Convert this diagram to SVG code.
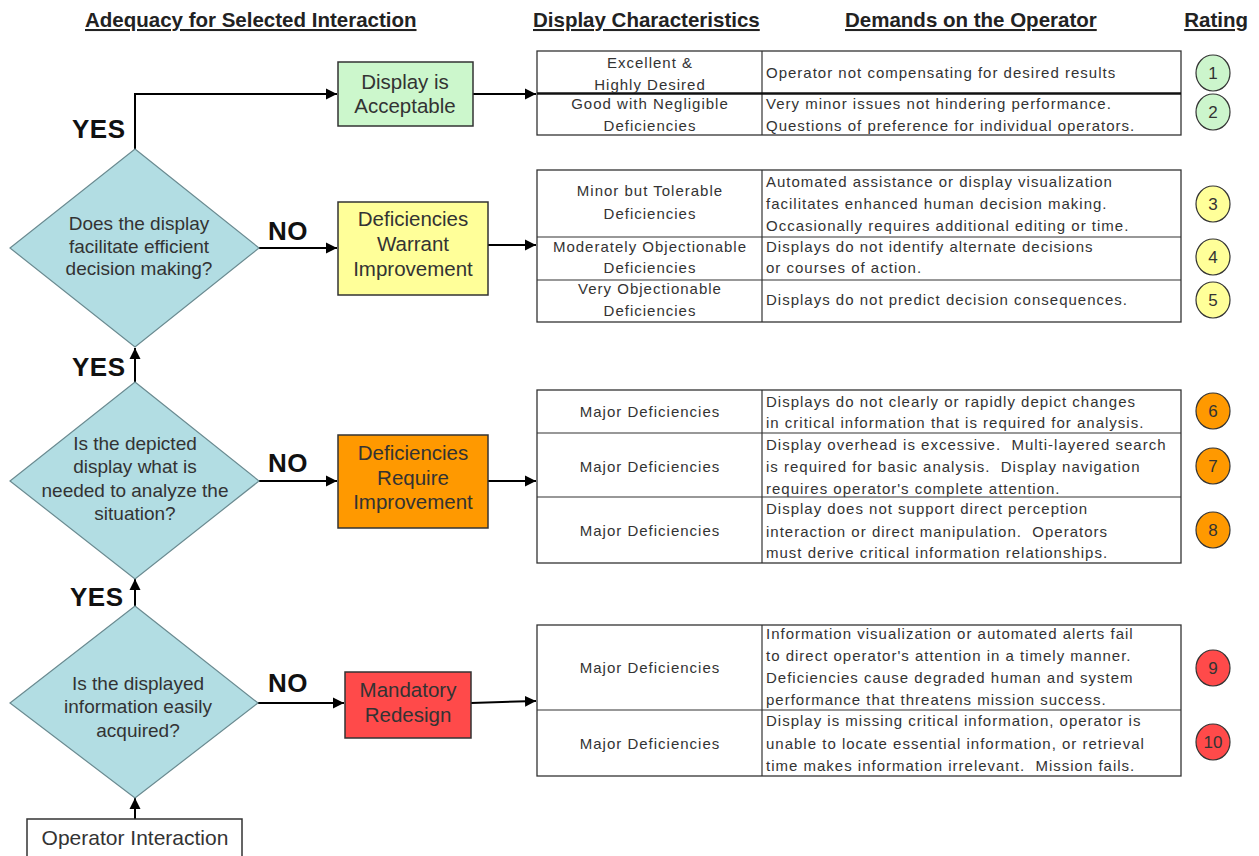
<svg xmlns="http://www.w3.org/2000/svg" width="1259" height="856" viewBox="0 0 1259 856">
<defs>
<marker id="ah" viewBox="0 0 10 10" refX="10" refY="5" markerWidth="11" markerHeight="12" markerUnits="userSpaceOnUse" orient="auto">
<path d="M0,0 L10,5 L0,10 z" fill="#000"/>
</marker>
<style>
.hdr{font-family:"Liberation Sans",Arial,sans-serif;font-size:20.5px;font-weight:bold;fill:#222;text-decoration:underline;}
.yn{font-family:"Liberation Sans",Arial,sans-serif;font-size:26px;font-weight:bold;fill:#111;letter-spacing:0.5px;}
.dt{font-family:"Liberation Sans",Arial,sans-serif;font-size:19px;fill:#333;text-anchor:middle;}
.bt{font-family:"Liberation Sans",Arial,sans-serif;font-size:20.5px;fill:#333;text-anchor:middle;}
.tt{font-family:"Liberation Sans",Arial,sans-serif;font-size:15px;letter-spacing:1px;fill:#333;white-space:pre;}
.tc{text-anchor:middle;}
.num{font-family:"Liberation Sans",Arial,sans-serif;font-size:17px;fill:#333;text-anchor:middle;}
.dia{fill:#b2dde3;stroke:#6a8a90;stroke-width:1.2;}
.box{stroke:#333;stroke-width:1.5;}
.tbl{fill:#fff;stroke:#333;stroke-width:1.3;}
.cn{stroke:#000;stroke-width:2;fill:none;}
.rc{stroke:#333;stroke-width:1.2;}
.rt{stroke:#333;stroke-width:1.2;}
</style>
</defs>
<rect width="1259" height="856" fill="#fff"/>

<g id="headers">
<text class="hdr" x="85" y="27">Adequacy for Selected Interaction</text>
<text class="hdr" x="533" y="27">Display Characteristics</text>
<text class="hdr" x="845" y="27">Demands on the Operator</text>
<text class="hdr" x="1248" y="27" text-anchor="end">Rating</text>
</g>

<g id="connectors">
<polyline class="cn" points="135,149 135,94 337,94" marker-end="url(#ah)"/>
<line class="cn" x1="473" y1="94" x2="536" y2="94" marker-end="url(#ah)"/>
<line class="cn" x1="259" y1="248" x2="337" y2="248" marker-end="url(#ah)"/>
<line class="cn" x1="488" y1="245" x2="536" y2="245" marker-end="url(#ah)"/>
<line class="cn" x1="135" y1="382" x2="135" y2="348" marker-end="url(#ah)"/>
<line class="cn" x1="259" y1="481" x2="337" y2="481" marker-end="url(#ah)"/>
<line class="cn" x1="488" y1="481" x2="536" y2="481" marker-end="url(#ah)"/>
<line class="cn" x1="135" y1="606" x2="135" y2="579" marker-end="url(#ah)"/>
<line class="cn" x1="258" y1="703" x2="344" y2="703" marker-end="url(#ah)"/>
<line class="cn" x1="471" y1="703" x2="536" y2="701" marker-end="url(#ah)"/>
<line class="cn" x1="135" y1="819" x2="135" y2="798" marker-end="url(#ah)"/>
</g>

<g id="labels">
<text class="yn" x="72" y="138">YES</text>
<text class="yn" x="268" y="240">NO</text>
<text class="yn" x="72" y="376">YES</text>
<text class="yn" x="268" y="472">NO</text>
<text class="yn" x="70" y="606">YES</text>
<text class="yn" x="268" y="692">NO</text>
</g>

<g id="q1">
<polygon class="dia" points="135,149 259,248 135,347 10,248"/>
<text class="dt" x="139" y="230">Does the display</text>
<text class="dt" x="139" y="253">facilitate efficient</text>
<text class="dt" x="139" y="275">decision making?</text>
</g>
<g id="q2">
<polygon class="dia" points="135,382 259,481 135,579 10,481"/>
<text class="dt" x="135" y="450">Is the depicted</text>
<text class="dt" x="135" y="473">display what is</text>
<text class="dt" x="135" y="497">needed to analyze the</text>
<text class="dt" x="135" y="520">situation?</text>
</g>
<g id="q3">
<polygon class="dia" points="135,606 258,703 135,798 10,703"/>
<text class="dt" x="138" y="690">Is the displayed</text>
<text class="dt" x="138" y="713">information easily</text>
<text class="dt" x="138" y="737">acquired?</text>
</g>

<g id="start">
<rect class="box" x="27" y="819" width="215" height="50" fill="#fff"/>
<text class="bt" x="135" y="845" style="font-size:21px">Operator Interaction</text>
</g>

<g id="acceptable">
<rect class="box" x="338" y="62" width="135" height="64" fill="#ccf7cc"/>
<text class="bt" x="405" y="89">Display is</text>
<text class="bt" x="405" y="113">Acceptable</text>
</g>
<g id="warrant">
<rect class="box" x="338" y="202" width="150" height="93" fill="#ffff99"/>
<text class="bt" x="413" y="226">Deficiencies</text>
<text class="bt" x="413" y="251">Warrant</text>
<text class="bt" x="413" y="276">Improvement</text>
</g>
<g id="require">
<rect class="box" x="338" y="435" width="150" height="93" fill="#ff9900"/>
<text class="bt" x="413" y="460">Deficiencies</text>
<text class="bt" x="413" y="485">Require</text>
<text class="bt" x="413" y="509">Improvement</text>
</g>
<g id="redesign">
<rect class="box" x="345" y="672" width="126" height="66" fill="#ff4a4a"/>
<text class="bt" x="408" y="697">Mandatory</text>
<text class="bt" x="408" y="722">Redesign</text>
</g>

<g id="table1">
<rect class="tbl" x="537" y="51" width="644" height="84"/>
<line class="rc" x1="762" y1="51" x2="762" y2="135"/>
<line x1="537" y1="93.5" x2="1181" y2="93.5" stroke="#111" stroke-width="2.5"/>
<text class="tt tc" x="650" y="68">Excellent &amp;</text>
<text class="tt tc" x="650" y="90">Highly Desired</text>
<text class="tt" x="766" y="78">Operator not compensating for desired results</text>
<text class="tt tc" x="650" y="109">Good with Negligible</text>
<text class="tt tc" x="650" y="131">Deficiencies</text>
<text class="tt" x="766" y="109">Very minor issues not hindering performance.</text>
<text class="tt" x="766" y="131">Questions of preference for individual operators.</text>
</g>

<g id="table2">
<rect class="tbl" x="537" y="170" width="644" height="152"/>
<line class="rc" x1="762" y1="170" x2="762" y2="322"/>
<line class="rc" x1="537" y1="237" x2="1181" y2="237"/>
<line class="rc" x1="537" y1="280" x2="1181" y2="280"/>
<text class="tt tc" x="650" y="196">Minor but Tolerable</text>
<text class="tt tc" x="650" y="219">Deficiencies</text>
<text class="tt" x="766" y="187">Automated assistance or display visualization</text>
<text class="tt" x="766" y="209">facilitates enhanced human decision making.</text>
<text class="tt" x="766" y="231">Occasionally requires additional editing or time.</text>
<text class="tt tc" x="650" y="252">Moderately Objectionable</text>
<text class="tt tc" x="650" y="273">Deficiencies</text>
<text class="tt" x="766" y="252">Displays do not identify alternate decisions</text>
<text class="tt" x="766" y="273">or courses of action.</text>
<text class="tt tc" x="650" y="294">Very Objectionable</text>
<text class="tt tc" x="650" y="316">Deficiencies</text>
<text class="tt" x="766" y="305">Displays do not predict decision consequences.</text>
</g>

<g id="table3">
<rect class="tbl" x="537" y="390" width="644" height="173"/>
<line class="rc" x1="762" y1="390" x2="762" y2="563"/>
<line class="rc" x1="537" y1="433" x2="1181" y2="433"/>
<line class="rc" x1="537" y1="497" x2="1181" y2="497"/>
<text class="tt tc" x="650" y="417">Major Deficiencies</text>
<text class="tt tc" x="650" y="472">Major Deficiencies</text>
<text class="tt tc" x="650" y="536">Major Deficiencies</text>
<text class="tt" x="766" y="407">Displays do not clearly or rapidly depict changes</text>
<text class="tt" x="766" y="428">in critical information that is required for analysis.</text>
<text class="tt" x="766" y="450">Display overhead is excessive.  Multi-layered search</text>
<text class="tt" x="766" y="472">is required for basic analysis.  Display navigation</text>
<text class="tt" x="766" y="494">requires operator's complete attention.</text>
<text class="tt" x="766" y="514">Display does not support direct perception</text>
<text class="tt" x="766" y="537">interaction or direct manipulation.  Operators</text>
<text class="tt" x="766" y="558">must derive critical information relationships.</text>
</g>

<g id="table4">
<rect class="tbl" x="537" y="625" width="644" height="151"/>
<line class="rc" x1="762" y1="625" x2="762" y2="776"/>
<line class="rc" x1="537" y1="710" x2="1181" y2="710"/>
<text class="tt tc" x="650" y="673">Major Deficiencies</text>
<text class="tt tc" x="650" y="749">Major Deficiencies</text>
<text class="tt" x="766" y="639">Information visualization or automated alerts fail</text>
<text class="tt" x="766" y="661">to direct operator's attention in a timely manner.</text>
<text class="tt" x="766" y="683">Deficiencies cause degraded human and system</text>
<text class="tt" x="766" y="705">performance that threatens mission success.</text>
<text class="tt" x="766" y="726">Display is missing critical information, operator is</text>
<text class="tt" x="766" y="749">unable to locate essential information, or retrieval</text>
<text class="tt" x="766" y="771">time makes information irrelevant.  Mission fails.</text>
</g>

<g id="ratings">
<g id="r1"><ellipse class="rt" cx="1213" cy="73" rx="17" ry="18" fill="#ccf5cc"/><text class="num" x="1213" y="79">1</text></g>
<g id="r2"><ellipse class="rt" cx="1213" cy="112" rx="17" ry="18" fill="#ccf5cc"/><text class="num" x="1213" y="118">2</text></g>
<g id="r3"><ellipse class="rt" cx="1213" cy="204" rx="17" ry="18" fill="#ffff99"/><text class="num" x="1213" y="210">3</text></g>
<g id="r4"><ellipse class="rt" cx="1213" cy="257" rx="17" ry="18" fill="#ffff99"/><text class="num" x="1213" y="263">4</text></g>
<g id="r5"><ellipse class="rt" cx="1213" cy="300" rx="17" ry="18" fill="#ffff99"/><text class="num" x="1213" y="306">5</text></g>
<g id="r6"><ellipse class="rt" cx="1213" cy="411" rx="17" ry="18" fill="#ff9900"/><text class="num" x="1213" y="417">6</text></g>
<g id="r7"><ellipse class="rt" cx="1213" cy="466" rx="17" ry="18" fill="#ff9900"/><text class="num" x="1213" y="472">7</text></g>
<g id="r8"><ellipse class="rt" cx="1213" cy="530" rx="17" ry="18" fill="#ff9900"/><text class="num" x="1213" y="536">8</text></g>
<g id="r9"><ellipse class="rt" cx="1213" cy="668" rx="17" ry="18" fill="#ff4a4a"/><text class="num" x="1213" y="674">9</text></g>
<g id="r10"><ellipse class="rt" cx="1213" cy="742" rx="17" ry="18" fill="#ff4a4a"/><text class="num" x="1213" y="748">10</text></g>
</g>
</svg>
